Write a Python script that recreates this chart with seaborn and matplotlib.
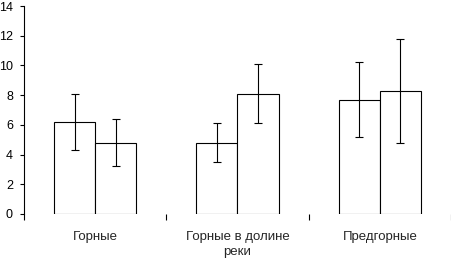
import numpy as np
import pandas as pd
import seaborn as sns
import matplotlib.pyplot as plt

groups = ['Горные', 'Горные в долине\nреки', 'Предгорные']
series = ['Серия 1', 'Серия 2']
means_1 = [6.2, 4.8, 7.7]
means_2 = [4.8, 8.1, 8.3]
err_1 = [1.9, 1.3, 2.5]
err_2 = [1.6, 2.0, 3.5]

df = pd.DataFrame({
    'group': groups * 2,
    'series': [series[0]] * 3 + [series[1]] * 3,
    'value': means_1 + means_2,
})

sns.set_style('white')
plt.rcParams['font.family'] = ['Liberation Sans', 'DejaVu Sans']

fig = plt.figure(figsize=(4.52, 2.59), dpi=100)
ax = fig.add_axes([24 / 452, 1 - 214 / 259, 427 / 452, 208 / 259])

sns.barplot(data=df, x='group', y='value', hue='series', order=groups,
            hue_order=series, width=0.58, palette=['white', 'white'],
            edgecolor='black', linewidth=0.8, errorbar=None, legend=False, ax=ax)

# error bars on bar centres
bars = [p for p in ax.patches if p.get_width() > 0]
errs = err_1 + err_2
for p, e in zip(bars, errs):
    cx = p.get_x() + p.get_width() / 2
    ax.errorbar(cx, p.get_height(), yerr=e, fmt='none', ecolor='black',
                elinewidth=0.8, capsize=3, capthick=0.8)

ax.set_ylim(0, 14)
ax.set_xlim(-0.5, 2.5)
ax.set_yticks(np.arange(0, 15, 2))
ax.set_xlabel('')
ax.set_ylabel('')

for s in ['top', 'right', 'bottom']:
    ax.spines[s].set_visible(False)
ax.spines['left'].set_linewidth(0.8)
ax.spines['left'].set_color('black')

ax.tick_params(axis='y', direction='out', length=3, width=0.8, pad=5,
               labelsize=9, left=True, colors='black')
ax.set_xticks([0, 1, 2])
ax.set_xticklabels(groups, fontsize=9.5, linespacing=1.35)
ax.tick_params(axis='x', length=0, pad=12)
ax.set_xticks([-0.5, 0.5, 1.5, 2.5], minor=True)
ax.tick_params(axis='x', which='minor', direction='out', length=4, width=0.8,
               bottom=True, colors='black')

fig.savefig('out.png', dpi=100)
